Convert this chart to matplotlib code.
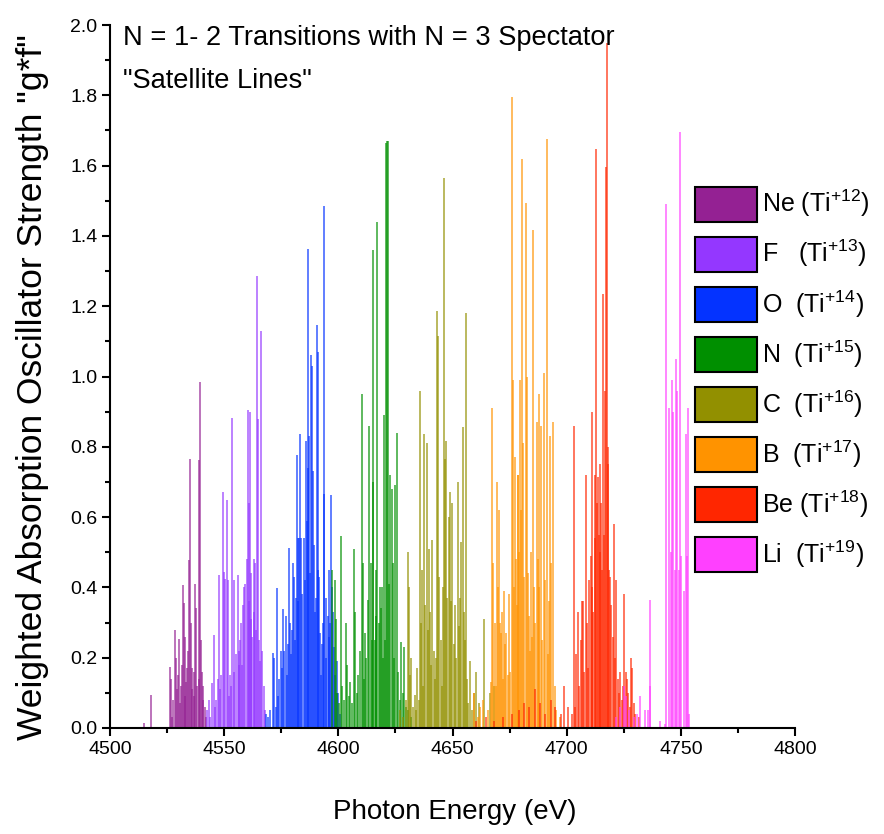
import matplotlib
matplotlib.use("Agg")
import matplotlib.pyplot as plt
from matplotlib import font_manager
from matplotlib.patches import Patch

# -----------------------------
# fonts: narrow face for horizontal text, if installed
# -----------------------------
names = {f.name for f in font_manager.fontManager.ttflist}
narrow = "Liberation Sans Narrow" if "Liberation Sans Narrow" in names else "Liberation Sans"
plt.rcParams["font.family"] = [narrow, "DejaVu Sans"]
plt.rcParams["mathtext.fontset"] = "custom"
plt.rcParams["mathtext.rm"] = narrow
plt.rcParams["mathtext.it"] = narrow

# -----------------------------
# line lists: energy (eV) and g*f
# -----------------------------
ne_e = [4515.0, 4518.1, 4526.3, 4526.6, 4527.1, 4527.5, 4528.3, 4528.7, 4529.3, 4529.8,
        4530.4, 4530.8, 4531.0, 4531.5, 4532.1, 4532.5, 4532.8, 4533.0, 4533.4, 4533.7,
        4534.1, 4534.5, 4535.2, 4535.6, 4535.9, 4536.1, 4536.8, 4537.0, 4537.4, 4537.8,
        4538.3, 4538.8, 4539.0, 4539.5, 4539.8, 4540.3, 4540.6, 4540.9, 4541.4, 4541.9]
ne_g = [0.014, 0.095, 0.174, 0.14, 0.03, 0.08, 0.28, 0.20, 0.11, 0.15,
        0.253, 0.07, 0.12, 0.18, 0.408, 0.355, 0.09, 0.26, 0.13, 0.17,
        0.22, 0.479, 0.766, 0.30, 0.11, 0.17, 0.16, 0.09, 0.41, 0.34,
        0.12, 0.762, 0.14, 0.983, 0.25, 0.16, 0.08, 0.12, 0.06, 0.03]

f_e = [4542.6, 4543.4, 4544.0, 4544.7, 4545.4, 4546.0, 4546.5, 4547.2, 4547.7, 4548.2,
       4548.7, 4549.3, 4549.8, 4550.5, 4551.2, 4551.8, 4552.2, 4552.7, 4553.1, 4553.6,
       4554.1, 4554.5, 4555.2, 4555.9, 4556.3, 4556.6, 4557.0, 4557.3, 4557.8, 4558.2,
       4558.7, 4559.3, 4559.9, 4560.3, 4560.7, 4561.0, 4561.3, 4561.6, 4561.9, 4562.4,
       4562.9, 4563.2, 4563.6, 4564.0, 4564.5, 4564.9, 4565.3, 4565.6, 4566.0, 4566.6,
       4567.3, 4567.8]
f_g = [0.05, 0.08, 0.03, 0.127, 0.264, 0.06, 0.08, 0.138, 0.436, 0.11,
       0.15, 0.67, 0.445, 0.425, 0.648, 0.42, 0.09, 0.15, 0.12, 0.882,
       0.16, 0.42, 0.21, 0.436, 0.18, 0.22, 0.25, 0.30, 0.18, 0.35,
       0.40, 0.41, 0.48, 0.904, 0.64, 0.36, 0.90, 0.31, 0.44, 0.26,
       0.48, 0.33, 0.47, 0.28, 1.287, 0.88, 0.25, 0.19, 1.129, 0.22,
       0.12, 0.05]

o_e = [4568.5, 4569.3, 4570.0, 4571.5, 4571.8, 4572.5, 4573.1, 4573.6, 4574.2, 4574.9,
       4575.3, 4575.9, 4576.4, 4577.1, 4577.6, 4578.0, 4578.4, 4578.9, 4579.4, 4579.8,
       4580.2, 4580.6, 4581.0, 4581.5, 4581.9, 4582.2, 4582.5, 4582.9, 4583.4, 4583.8,
       4584.2, 4584.8, 4585.2, 4585.7, 4586.2, 4586.6, 4586.9, 4587.3, 4587.7, 4588.2,
       4588.5, 4588.9, 4589.3, 4589.7, 4590.1, 4590.5, 4590.9, 4591.3, 4591.7, 4592.0,
       4592.5, 4592.9, 4593.3, 4593.6, 4593.9, 4594.4, 4594.8, 4595.3, 4595.7, 4596.1,
       4596.4, 4596.7, 4597.1, 4597.6, 4598.0, 4598.5, 4599.3, 4600.0, 4600.8]
o_g = [0.04, 0.03, 0.05, 0.213, 0.20, 0.06, 0.397, 0.09, 0.14, 0.22,
       0.17, 0.338, 0.22, 0.32, 0.15, 0.24, 0.512, 0.30, 0.21, 0.28,
       0.47, 0.43, 0.25, 0.37, 0.776, 0.36, 0.54, 0.54, 0.835, 0.54,
       0.38, 0.54, 0.42, 0.816, 0.59, 0.74, 1.364, 0.83, 0.44, 1.062,
       1.03, 0.73, 0.52, 0.33, 0.37, 1.146, 1.07, 0.45, 0.43, 0.27,
       0.15, 0.24, 0.30, 0.665, 1.486, 0.37, 0.20, 0.32, 0.26, 0.45,
       0.30, 0.662, 0.40, 0.33, 0.23, 0.15, 0.19, 0.10, 0.04]

n_e = [4597.2, 4598.5, 4598.8, 4599.5, 4600.3, 4601.2, 4601.8, 4602.5, 4603.4, 4603.8,
       4604.5, 4605.2, 4606.0, 4606.8, 4607.5, 4608.1, 4608.8, 4609.5, 4610.3, 4610.7,
       4611.2, 4611.8, 4612.3, 4612.9, 4613.5, 4614.2, 4614.6, 4615.0, 4615.4, 4615.9,
       4616.3, 4616.7, 4617.1, 4617.6, 4618.1, 4618.6, 4619.2, 4619.6, 4620.1, 4620.6,
       4621.0, 4621.4, 4621.7, 4622.2, 4622.8, 4623.3, 4623.9, 4624.3, 4624.9, 4625.6,
       4626.2, 4626.8, 4627.5, 4628.2, 4628.9, 4629.6, 4630.5, 4632.0]
n_g = [0.45, 0.42, 0.31, 0.10, 0.07, 0.545, 0.12, 0.08, 0.30, 0.18,
       0.09, 0.13, 0.07, 0.51, 0.33, 0.10, 0.15, 0.22, 0.95, 0.47,
       0.14, 0.27, 0.20, 0.365, 0.86, 0.47, 0.25, 1.36, 0.70, 0.25,
       0.45, 0.32, 1.44, 0.30, 0.40, 0.34, 0.40, 0.20, 0.89, 0.25,
       1.663, 1.67, 1.67, 0.41, 0.72, 0.68, 0.47, 0.20, 0.69, 0.84,
       0.16, 0.08, 0.245, 0.10, 0.23, 0.06, 0.05, 0.03]

c_e = [4627.0, 4628.5, 4629.5, 4630.3, 4630.9, 4631.5, 4631.8, 4632.6, 4633.4, 4634.0,
       4634.6, 4635.2, 4635.8, 4636.2, 4636.8, 4637.2, 4637.7, 4638.1, 4638.7, 4639.1,
       4639.7, 4640.1, 4640.6, 4641.2, 4641.8, 4642.3, 4642.9, 4643.3, 4643.7, 4644.3,
       4644.9, 4645.5, 4645.9, 4646.2, 4646.6, 4647.2, 4647.7, 4648.4, 4648.9, 4649.3,
       4649.9, 4650.5, 4651.0, 4651.6, 4652.2, 4652.7, 4653.3, 4653.9, 4654.5, 4655.0,
       4655.5, 4656.0, 4656.5, 4657.0, 4657.7, 4658.5, 4659.3, 4660.4, 4661.5, 4664.0,
       4666.4, 4668.0]
c_g = [0.05, 0.03, 0.08, 0.50, 0.40, 0.15, 0.20, 0.06, 0.095, 0.05,
       0.17, 0.08, 0.96, 0.30, 0.45, 0.12, 0.835, 0.35, 0.81, 0.28,
       0.51, 0.33, 0.18, 0.535, 0.22, 0.14, 0.20, 1.186, 1.115, 0.43,
       0.25, 0.12, 0.40, 1.566, 0.765, 0.816, 0.37, 0.60, 0.67, 0.36,
       0.64, 0.24, 0.35, 0.20, 0.70, 0.29, 0.37, 0.53, 0.857, 0.33,
       0.25, 1.18, 0.14, 0.07, 0.19, 0.05, 0.10, 0.16, 0.07, 0.31,
       0.10, 0.12]

b_e = [4659.3, 4661.0, 4662.2, 4663.2, 4665.5, 4667.0, 4667.5, 4667.8, 4668.4, 4669.0,
       4669.6, 4670.0, 4670.4, 4670.9, 4671.3, 4671.8, 4672.2, 4672.6, 4673.2, 4673.6,
       4674.2, 4674.9, 4675.4, 4675.9, 4676.5, 4676.9, 4677.3, 4677.7, 4678.1, 4678.5,
       4678.9, 4679.2, 4679.6, 4680.0, 4680.6, 4681.0, 4681.5, 4682.1, 4682.6, 4683.1,
       4683.6, 4684.0, 4684.5, 4685.0, 4685.4, 4685.8, 4686.3, 4686.8, 4687.3, 4687.7,
       4688.1, 4688.6, 4689.2, 4689.9, 4690.5, 4691.2, 4691.7, 4692.2, 4692.8, 4693.3,
       4694.1, 4694.7, 4695.5, 4697.0]
b_g = [0.10, 0.03, 0.06, 0.08, 0.05, 0.13, 0.91, 0.47, 0.30, 0.12,
       0.70, 0.40, 0.62, 0.30, 0.27, 0.33, 0.14, 0.39, 0.24, 0.27,
       0.15, 0.38, 0.16, 1.794, 0.99, 0.40, 0.77, 0.48, 0.35, 0.72,
       0.72, 0.50, 0.99, 0.62, 1.62, 0.81, 0.43, 1.494, 1.00, 0.44,
       0.32, 0.22, 0.50, 0.26, 1.417, 0.40, 0.30, 0.87, 0.48, 0.40,
       0.95, 0.86, 0.25, 1.01, 0.42, 1.675, 0.21, 0.36, 0.83, 0.47,
       0.87, 0.12, 0.05, 0.03]

be_e = [4660.5, 4664.5, 4668.0, 4672.0, 4676.0, 4679.0, 4681.5, 4683.5, 4686.0, 4688.5,
        4690.5, 4693.0, 4695.0, 4697.5, 4699.0, 4700.8, 4702.2, 4703.3, 4703.8, 4704.3,
        4705.1, 4705.6, 4706.2, 4706.8, 4707.3, 4707.8, 4708.4, 4708.8, 4709.4, 4709.8,
        4710.5, 4710.9, 4711.3, 4711.7, 4712.2, 4712.5, 4712.9, 4713.3, 4713.6, 4714.0,
        4714.4, 4714.7, 4715.2, 4715.6, 4716.1, 4716.5, 4716.9, 4717.4, 4717.6, 4718.0,
        4718.3, 4718.7, 4719.1, 4719.6, 4720.2, 4720.9, 4721.3, 4721.8, 4722.4, 4722.9,
        4723.5, 4724.2, 4724.8, 4725.3, 4725.8, 4726.4, 4727.0, 4727.6, 4728.1, 4728.6,
        4729.3, 4730.0, 4731.5]
be_g = [0.02, 0.03, 0.02, 0.03, 0.04, 0.05, 0.07, 0.06, 0.11, 0.07,
        0.04, 0.08, 0.06, 0.04, 0.12, 0.06, 0.04, 0.86, 0.06, 0.21,
        0.33, 0.12, 0.25, 0.36, 0.36, 0.16, 0.72, 0.30, 0.17, 0.42,
        0.49, 0.40, 0.90, 0.33, 0.54, 0.72, 1.647, 0.64, 0.715, 0.55,
        0.50, 0.75, 0.64, 0.45, 1.236, 0.55, 0.96, 1.595, 1.95, 0.75,
        0.80, 0.45, 0.43, 0.35, 0.26, 0.58, 0.20, 0.42, 0.14, 0.10,
        0.16, 0.08, 0.12, 0.38, 0.16, 0.14, 0.10, 0.06, 0.20, 0.17,
        0.07, 0.04, 0.03]

li_e = [4721.5, 4723.2, 4724.9, 4726.2, 4727.4, 4729.3, 4731.0, 4732.3, 4734.1, 4735.8,
        4736.4, 4736.7, 4740.7, 4742.9, 4743.7, 4744.9, 4745.6, 4746.3, 4746.7, 4747.3,
        4748.1, 4748.5, 4749.1, 4749.7, 4750.1, 4751.2, 4752.2, 4752.5, 4753.0, 4753.7]
li_g = [0.03, 0.06, 0.12, 0.09, 0.05, 0.03, 0.04, 0.09, 0.05, 0.05,
        0.12, 0.364, 0.02, 0.01, 1.49, 0.91, 0.50, 0.99, 0.90, 0.45,
        1.05, 0.96, 0.45, 1.695, 0.49, 0.39, 0.836, 0.49, 0.91, 0.04]

labels = ["Ne (Ti$^{+12}$)", "F   (Ti$^{+13}$)", "O  (Ti$^{+14}$)", "N  (Ti$^{+15}$)",
          "C  (Ti$^{+16}$)", "B  (Ti$^{+17}$)", "Be (Ti$^{+18}$)", "Li  (Ti$^{+19}$)"]
colors = ["#942193", "#9437FF", "#0433FF", "#008F00",
          "#929000", "#FF9300", "#FF2600", "#FF40FF"]
series = [(ne_e, ne_g), (f_e, f_g), (o_e, o_g), (n_e, n_g),
          (c_e, c_g), (b_e, b_g), (be_e, be_g), (li_e, li_g)]

# -----------------------------
# figure
# -----------------------------
fig = plt.figure(figsize=(8.84, 8.34), dpi=100)
ax = fig.add_axes([110 / 884, 1 - 728 / 834, 685 / 884, 703 / 834])

for (e, g), col in zip(series, colors):
    ax.vlines(e, 0, g, colors=col, lw=1.1, alpha=0.8)

ax.set_xlim(4500, 4800)
ax.set_ylim(0, 2.0)
ax.set_xticks(range(4500, 4801, 50))
ax.set_xticks(range(4525, 4800, 50), minor=True)
ax.set_yticks([i / 5 for i in range(11)])
ax.set_yticks([i / 10 for i in range(1, 20, 2)], minor=True)
ax.set_yticklabels([f"{i / 5:.1f}" for i in range(11)])

for s in ["top", "right"]:
    ax.spines[s].set_visible(False)
for s in ["left", "bottom"]:
    ax.spines[s].set_linewidth(1.5)
ax.tick_params(which="major", direction="out", length=6, width=1.5, labelsize=14, pad=3)
ax.tick_params(which="minor", direction="out", length=3.5, width=1.5)

# axis labels and heading
fig.text(33 / 884, 1 - 387 / 834, 'Weighted Absorption Oscillator Strength "g*f"',
         rotation=90, ha="center", va="center", fontsize=25.5, family="Liberation Sans")
fig.text(455 / 884, 1 - 812 / 834, "Photon Energy (eV)", ha="center", va="center",
         fontsize=20)
fig.text(123 / 884, 1 - 45 / 834, "N = 1- 2 Transitions with N = 3 Spectator",
         ha="left", va="baseline", fontsize=19.6)
fig.text(123 / 884, 1 - 88 / 834, '"Satellite Lines"', ha="left", va="baseline",
         fontsize=19.6)

handles = [Patch(facecolor=c, edgecolor="black", lw=1.5) for c in colors]
ax.legend(handles, labels, loc="upper left", bbox_to_anchor=(695 / 884, 1 - 187 / 834),
          bbox_transform=fig.transFigure, frameon=False, fontsize=18,
          handlelength=2.48, handleheight=1.75, handletextpad=0.2,
          labelspacing=0.62, borderpad=0, borderaxespad=0)

fig.savefig("out.png", dpi=100)
